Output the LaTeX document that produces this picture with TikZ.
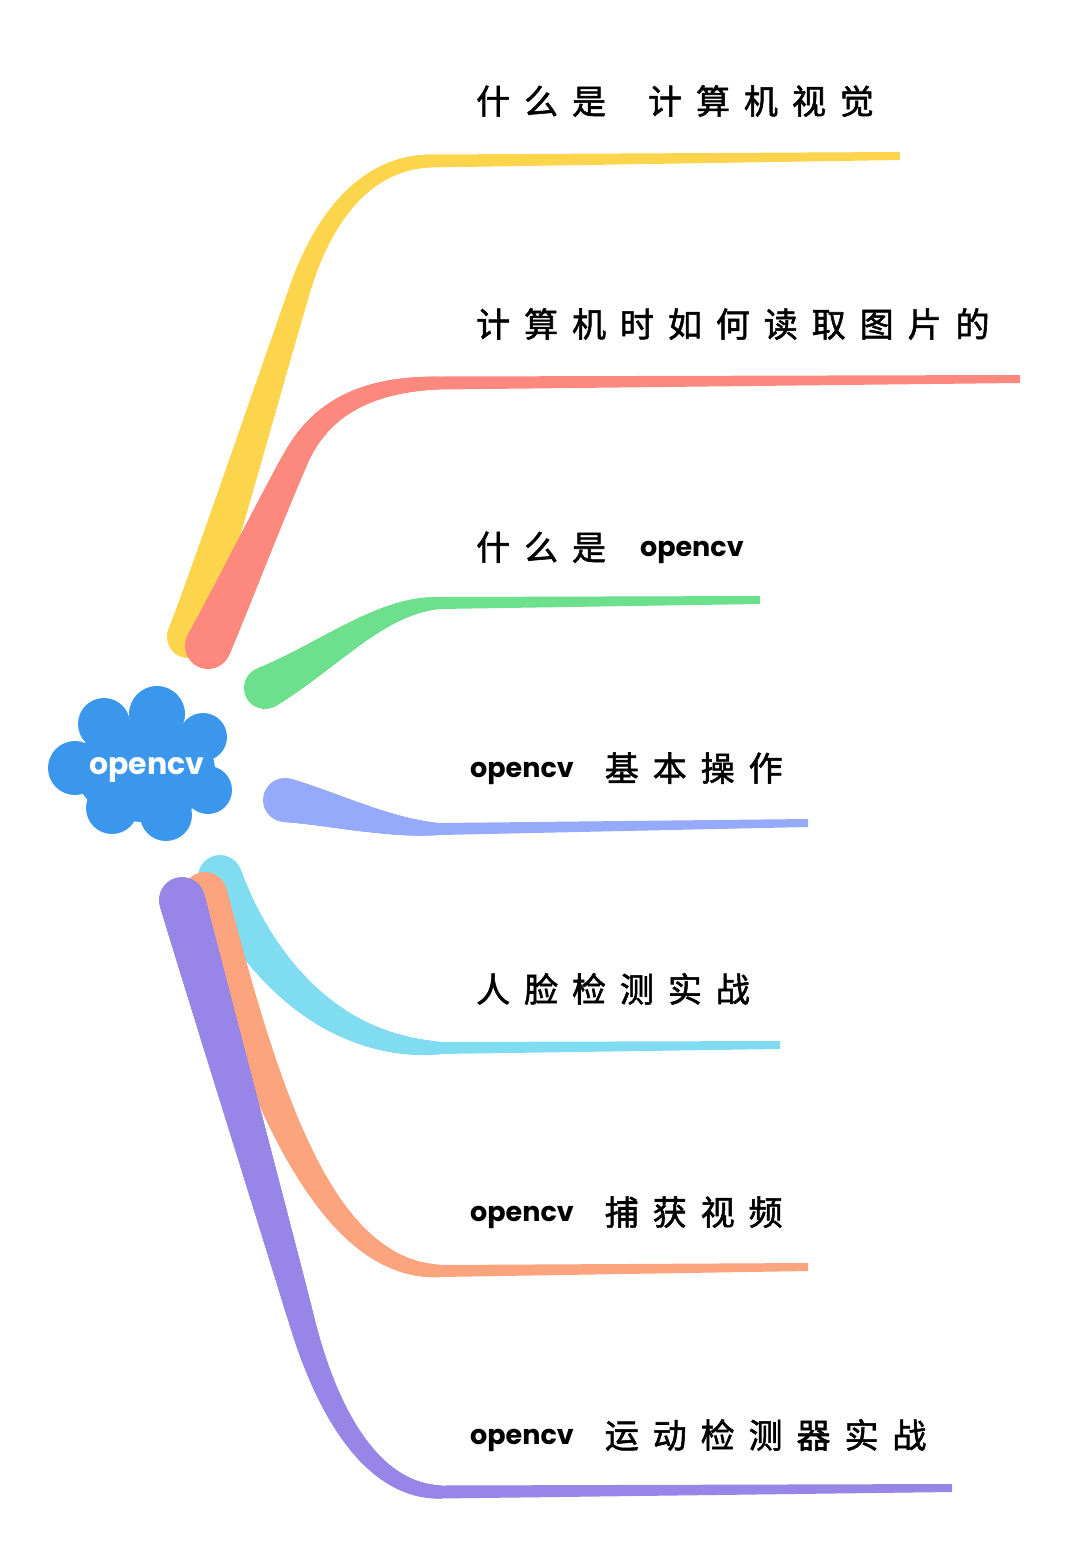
\documentclass[tikz,border=0pt]{standalone}
\usepackage{fontspec}
\usetikzlibrary{decorations.markings,calc}
\newfontfamily\cjk[LetterSpace=41, FakeBold=1.6]{Noto Sans CJK SC}
\newfontfamily\lat{Poppins}
\definecolor{cyel}{RGB}{253,213,76}
\definecolor{cred}{RGB}{253,137,126}
\definecolor{cgrn}{RGB}{108,224,141}
\definecolor{clav}{RGB}{150,170,252}
\definecolor{ccya}{RGB}{128,220,240}
\definecolor{cora}{RGB}{252,164,125}
\definecolor{cpur}{RGB}{151,133,232}
\definecolor{cblu}{RGB}{59,151,236}
\newcommand\oc{\raisebox{4pt}{\lat\bfseries\fontsize{27}{27}\selectfont opencv}}
\newcommand\branch[5]{%
  \path[decoration={markings, mark=between positions 0 and 1 step 1.5pt with {%
    \pgfmathsetmacro\brr{(#3+(#2-#3)*pow(max(1-(\pgfkeysvalueof{/pgf/decoration/mark info/distance from start})/\pgfdecoratedpathlength,0.0001),#4))/2}%
    \fill[#1] (0pt,0pt) circle[radius=\brr pt];}}, decorate] #5;}
\newcommand\stem[5]{\fill[#1] ($(#2)+(0,#4/2)$) -- ($(#3)+(0,#5/2)$) -- ($(#3)-(0,#5/2)$) -- ($(#2)-(0,#4/2)$) -- cycle;}
\tikzset{lbl/.style={anchor=base west, inner sep=0pt, font=\cjk\fontsize{34}{34}\selectfont}}
\begin{document}
\begin{tikzpicture}[x=1pt,y=-1pt]
\useasboundingbox (0,0) rectangle (1070,1548);
\fill[white] (0,0) rectangle (1070,1548);
% roots, knees, ends
\coordinate (yr) at (188,637); \coordinate (yk) at (430,161); \coordinate (ye) at (900,156);
\coordinate (rr) at (208,646); \coordinate (rk) at (440,383); \coordinate (re) at (1020,379);
\coordinate (gr) at (265,688); \coordinate (gk) at (440,603); \coordinate (ge) at (760,600);
\coordinate (lr) at (285,800); \coordinate (lk) at (440,829); \coordinate (le) at (808,823);
\coordinate (cr) at (220,877); \coordinate (ck) at (440,1048); \coordinate (ce) at (780,1045);
\coordinate (or) at (205,894); \coordinate (ok) at (440,1271); \coordinate (oe) at (808,1267);
\coordinate (pr) at (182,900); \coordinate (pk) at (440,1492); \coordinate (pe) at (952,1488);
% branches
\branch{cyel}{42}{13}{1.2}{(yr) .. controls (207,585) and (280,350) .. (300,289) .. controls (320,227) and (360,163) .. (yk)}
\stem{cyel}{yk}{ye}{13}{8}
\branch{cred}{46}{13}{1.2}{(rr) .. controls (228,605) and (268,515) .. (295,460) .. controls (318,413) and (360,384) .. (rk)}
\stem{cred}{rk}{re}{13}{8}
\branch{cgrn}{42}{12}{1.1}{(gr) .. controls (330,655) and (380,605) .. (gk)}
\stem{cgrn}{gk}{ge}{12}{8}
\branch{clav}{44}{12}{1.1}{(lr) .. controls (330,808) and (390,829) .. (lk)}
\stem{clav}{lk}{le}{12}{8}
\branch{ccya}{44}{12}{0.8}{(cr) .. controls (250,950) and (320,1048) .. (ck)}
\stem{ccya}{ck}{ce}{12}{8}
\branch{cora}{44}{12}{0.85}{(or) .. controls (260,1080) and (320,1270) .. (ok)}
\stem{cora}{ok}{oe}{12}{8}
\branch{cpur}{46}{13}{0.9}{(pr) .. controls (222,1042) and (263,1183) .. (303,1325) .. controls (320,1385) and (360,1490) .. (pk)}
\stem{cpur}{pk}{pe}{13}{8}
% cloud
\begin{scope}[cblu]
\fill (104,724) circle[radius=26pt];
\fill (157,714) circle[radius=28pt];
\fill (203,737) circle[radius=24pt];
\fill (208,790) circle[radius=24pt];
\fill (166,815) circle[radius=26pt];
\fill (112,808) circle[radius=26pt];
\fill (75,768) circle[radius=27pt];
\fill (145,770) ellipse[x radius=70pt, y radius=52pt];
\end{scope}
\node[inner sep=0pt, text=white, font=\lat\bfseries\fontsize{30}{30}\selectfont] (cv) at (147,770) {opencv};
% labels
\node[lbl] (t1) at (476,114) {什么是\hspace{42pt}计算机视觉};
\node[lbl] (t2) at (476,337) {计算机时如何读取图片的};
\node[lbl] (t3) at (476,560) {什么是\hspace{34pt}\oc};
\node[lbl] (t4) at (470,781) {\oc\hspace{31pt}基本操作};
\node[lbl] (t5) at (476,1002) {人脸检测实战};
\node[lbl] (t6) at (470,1225) {\oc\hspace{31pt}捕获视频};
\node[lbl] (t7) at (470,1448) {\oc\hspace{31pt}运动检测器实战};
\end{tikzpicture}
\end{document}
